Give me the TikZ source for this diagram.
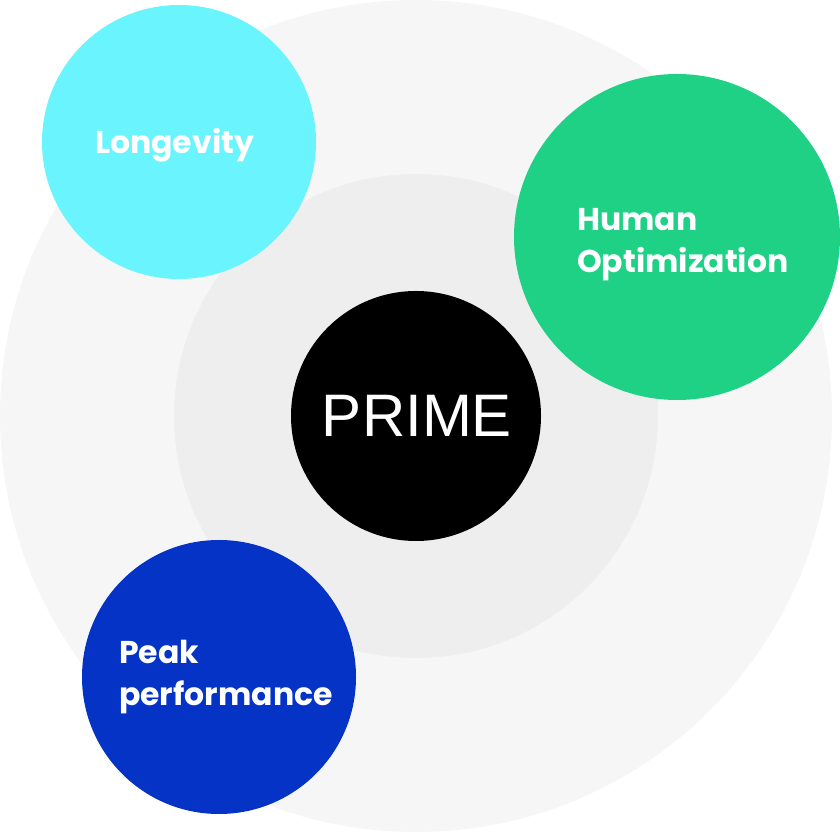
\documentclass[tikz,border=0pt]{standalone}
\usepackage{fontspec}
\setmainfont{Poppins}
\newfontfamily\primefont{Liberation Sans}
\definecolor{outerbg}{HTML}{F6F6F6}
\definecolor{innerbg}{HTML}{EEEEEE}
\definecolor{cyanc}{HTML}{6AF4FE}
\definecolor{greenc}{HTML}{1ED185}
\definecolor{bluec}{HTML}{0433C6}
\begin{document}
\begin{tikzpicture}[x=1pt,y=1pt,
  disc/.style={circle,inner sep=0pt,draw=none},
  lbl/.style={text=white,font=\bfseries\fontsize{31.5}{42}\selectfont,align=left,anchor=west,inner sep=0pt}]
\useasboundingbox (0,0) rectangle (840,832);
\node[disc,fill=outerbg,minimum size=832pt] (outer) at (416,416) {};
\node[disc,fill=innerbg,minimum size=484pt] (inner) at (416,416) {};
\node[disc,fill=black,minimum size=250pt] (prime) at (416,416) {};
\node[text=white,font=\primefont\fontsize{60}{60}\selectfont] (primet) at (417,416) {PRIME};
\node[disc,fill=cyanc,minimum size=274pt] (lon) at (179,690) {};
\node[lbl] (lont) at (95,687) {Longevity};
\node[disc,fill=greenc,minimum size=326pt] (hum) at (677,595) {};
\node[lbl] (humt) at (577,587) {Human\\Optimization};
\node[disc,fill=bluec,minimum size=274pt] (peak) at (219,155) {};
\node[lbl] (peakt) at (119,155) {Peak\\performance};
\end{tikzpicture}
\end{document}
